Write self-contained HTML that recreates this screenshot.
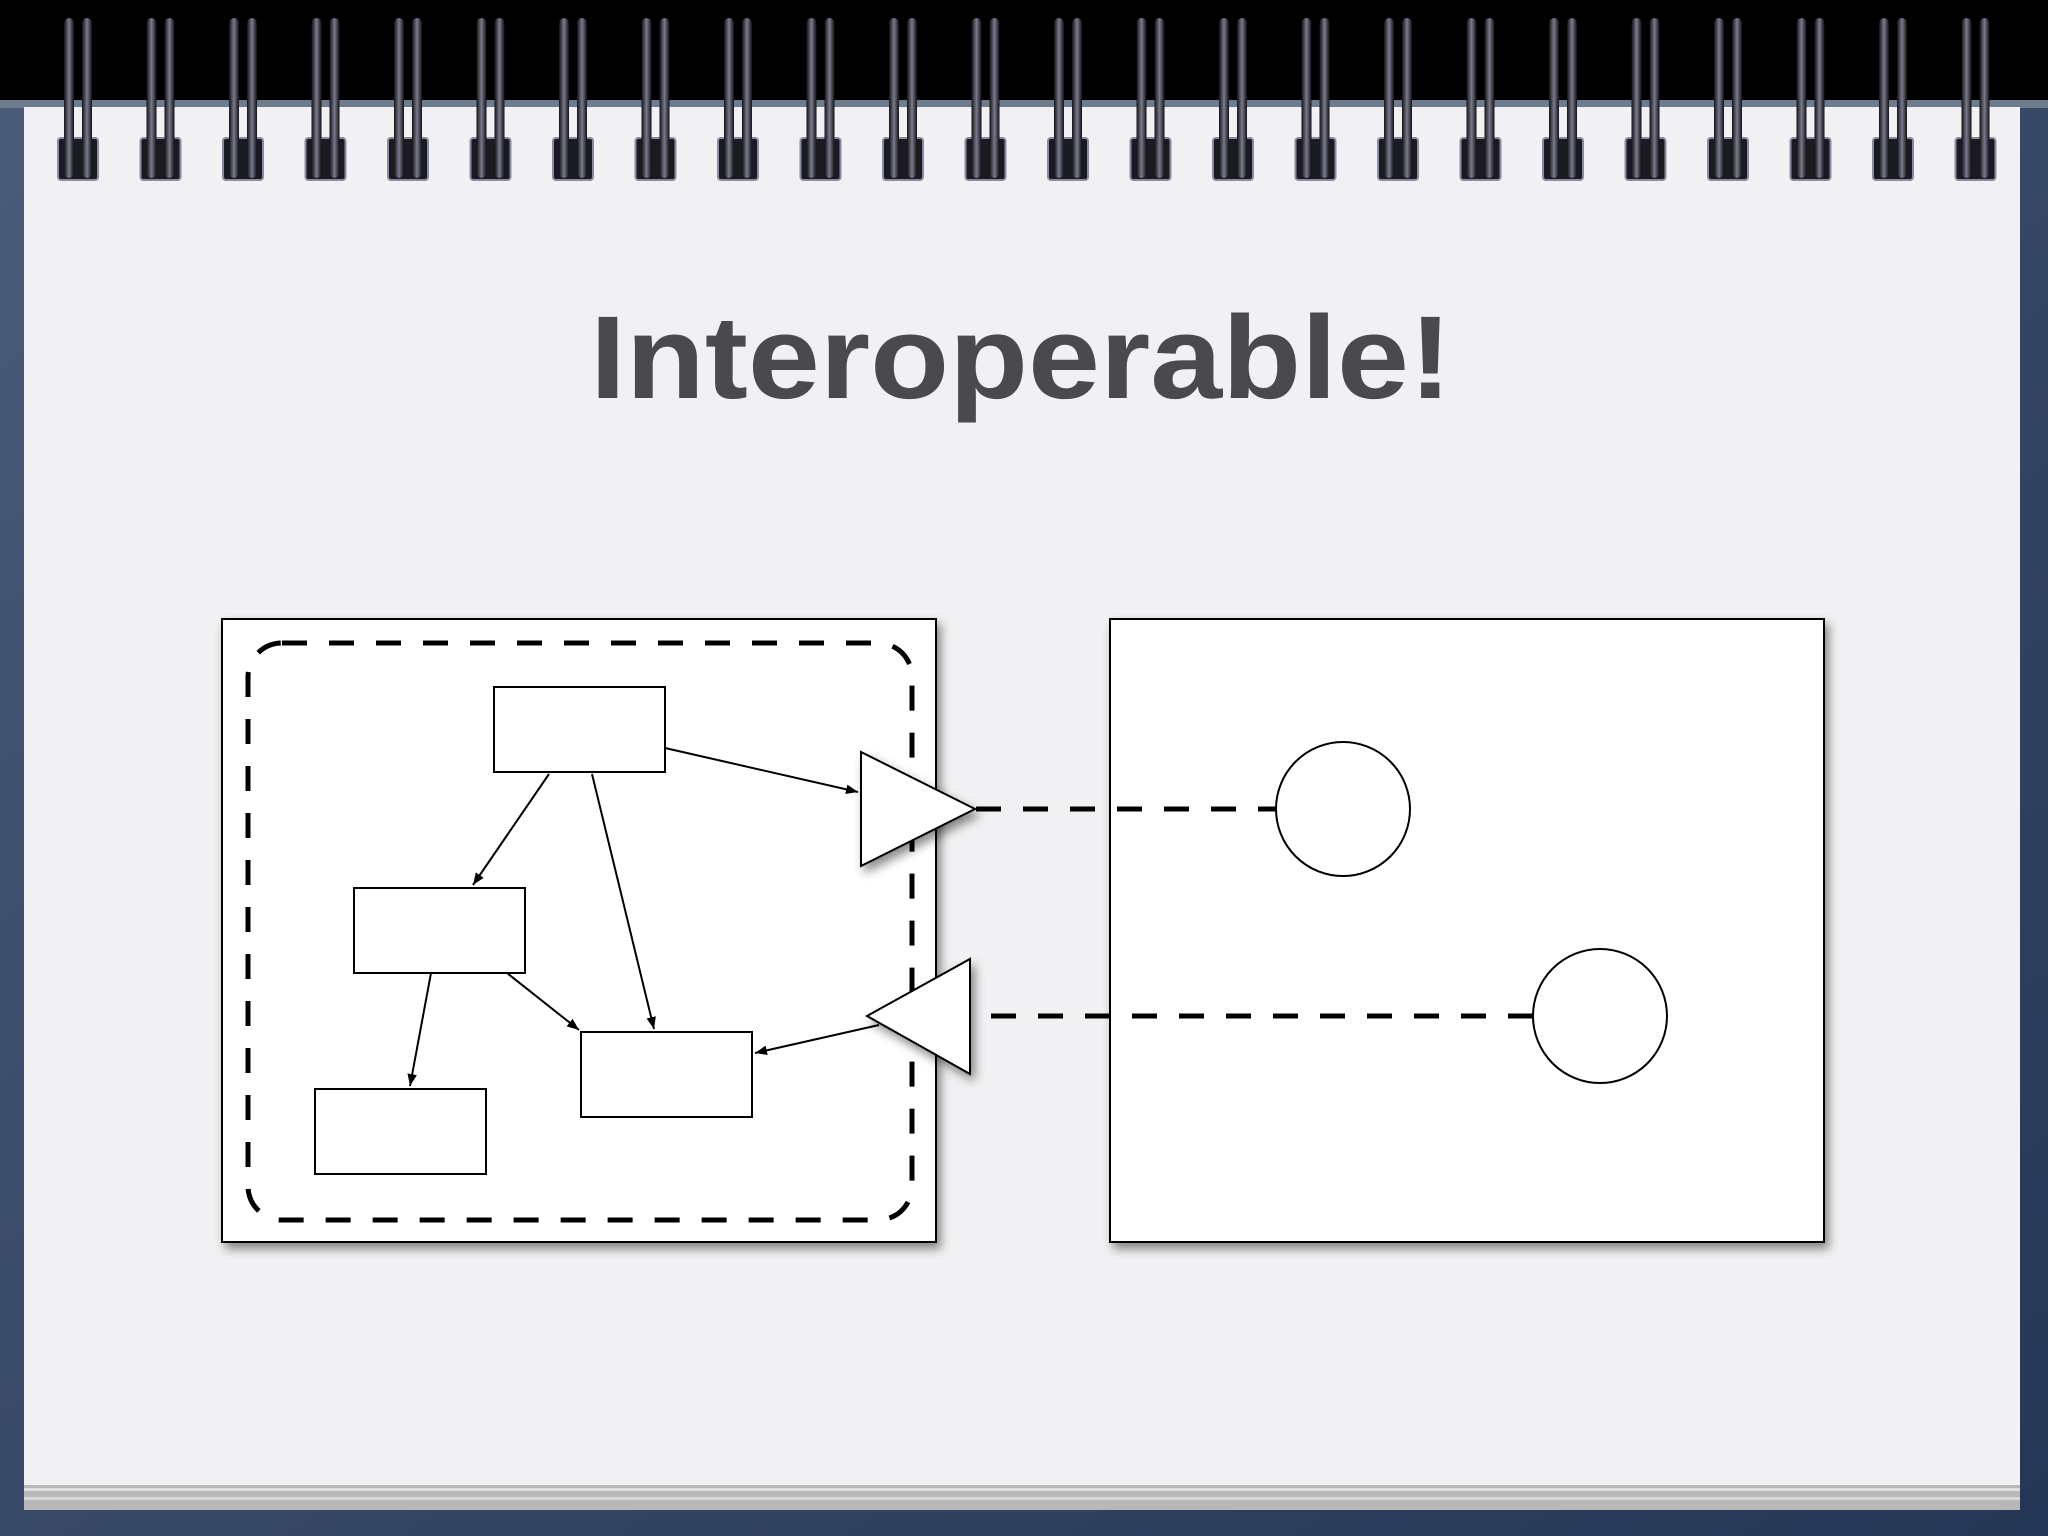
<!DOCTYPE html>
<html><head><meta charset="utf-8"><style>
html,body{margin:0;padding:0;width:2048px;height:1536px;overflow:hidden;background:#2a3a56;}
svg{display:block}
</style></head><body>
<svg width="2048" height="1536" viewBox="0 0 2048 1536" xmlns="http://www.w3.org/2000/svg">
<defs>
<linearGradient id="bg" x1="0" y1="0" x2="1" y2="1">
<stop offset="0" stop-color="#4a5c78"/><stop offset="1" stop-color="#263656"/></linearGradient>
<filter id="sh" x="-10%" y="-10%" width="130%" height="130%"><feDropShadow dx="4" dy="6" stdDeviation="5" flood-color="#000" flood-opacity="0.45"/></filter>
<linearGradient id="wire" x1="0" y1="0" x2="1" y2="0">
<stop offset="0" stop-color="#111"/><stop offset="0.5" stop-color="#7a7a90"/><stop offset="1" stop-color="#111"/></linearGradient>
<marker id="ah" viewBox="0 0 10 10" refX="10" refY="5" markerWidth="12" markerHeight="12" markerUnits="userSpaceOnUse" orient="auto"><path d="M0,1 L10,5 L0,9 z" fill="#000"/></marker>
<g id="ring">
<rect x="0" y="138" width="40" height="42" rx="3" fill="#1a1a22" stroke="#8a8aa0" stroke-width="2"/>
<rect x="6" y="18" width="10" height="160" rx="5" fill="url(#wire)"/>
<rect x="24" y="18" width="10" height="160" rx="5" fill="url(#wire)"/>
</g>
</defs>
<rect x="0" y="0" width="2048" height="1536" fill="url(#bg)"/>
<rect x="0" y="0" width="2048" height="100" fill="#000"/>
<rect x="0" y="100" width="2048" height="8" fill="#6d7d8e"/>
<rect x="24" y="1480" width="1996" height="30" fill="#b8b8b8"/>
<rect x="24" y="1488" width="1996" height="3" fill="#e0e0e0"/>
<rect x="24" y="1497" width="1996" height="3" fill="#d8d8d8"/>
<rect x="24" y="107" width="1996" height="1378" fill="#f1f0f2"/>
<use href="#ring" x="58"/><use href="#ring" x="140.5"/><use href="#ring" x="223"/><use href="#ring" x="305.5"/>
<use href="#ring" x="388"/><use href="#ring" x="470.5"/><use href="#ring" x="553"/><use href="#ring" x="635.5"/>
<use href="#ring" x="718"/><use href="#ring" x="800.5"/><use href="#ring" x="883"/><use href="#ring" x="965.5"/>
<use href="#ring" x="1048"/><use href="#ring" x="1130.5"/><use href="#ring" x="1213"/><use href="#ring" x="1295.5"/>
<use href="#ring" x="1378"/><use href="#ring" x="1460.5"/><use href="#ring" x="1543"/><use href="#ring" x="1625.5"/>
<use href="#ring" x="1708"/><use href="#ring" x="1790.5"/><use href="#ring" x="1873"/><use href="#ring" x="1955.5"/>
<text x="590" y="398" font-family="Liberation Sans, sans-serif" font-weight="bold" font-size="118" fill="#4a494d" textLength="862" lengthAdjust="spacingAndGlyphs">Interoperable!</text>
<rect x="222" y="619" width="714" height="623" fill="#fff" stroke="#000" stroke-width="2" filter="url(#sh)"/>
<rect x="1110" y="619" width="714" height="623" fill="#fff" stroke="#000" stroke-width="2" filter="url(#sh)"/>
<rect x="248" y="643" width="664" height="577" rx="34" fill="none" stroke="#000" stroke-width="5" stroke-dasharray="25 22"/>
<g fill="#fff" stroke="#000" stroke-width="2">
<rect x="494" y="687" width="171" height="85"/>
<rect x="354" y="888" width="171" height="85"/>
<rect x="581" y="1032" width="171" height="85"/>
<rect x="315" y="1089" width="171" height="85"/>
</g>
<g stroke="#000" stroke-width="2" fill="none" marker-end="url(#ah)">
<line x1="665" y1="748" x2="858" y2="792"/>
<line x1="549" y1="774" x2="473" y2="885"/>
<line x1="592" y1="774" x2="654" y2="1029"/>
<line x1="507" y1="973" x2="579" y2="1030"/>
<line x1="431" y1="973" x2="410" y2="1086"/>
<line x1="879" y1="1025" x2="755" y2="1053"/>
</g>
<g stroke="#000" stroke-width="5" stroke-dasharray="25 22">
<line x1="976" y1="809" x2="1276" y2="809"/>
<line x1="1533" y1="1016" x2="970" y2="1016"/>
</g>
<g fill="#fff" stroke="#000" stroke-width="2" filter="url(#sh)">
<polygon points="861,752 861,866 975,809"/>
<polygon points="970,959 970,1074 867,1016"/>
</g>
<g fill="#fff" stroke="#000" stroke-width="2">
<circle cx="1343" cy="809" r="67"/>
<circle cx="1600" cy="1016" r="67"/>
</g>
</svg>
</body></html>
